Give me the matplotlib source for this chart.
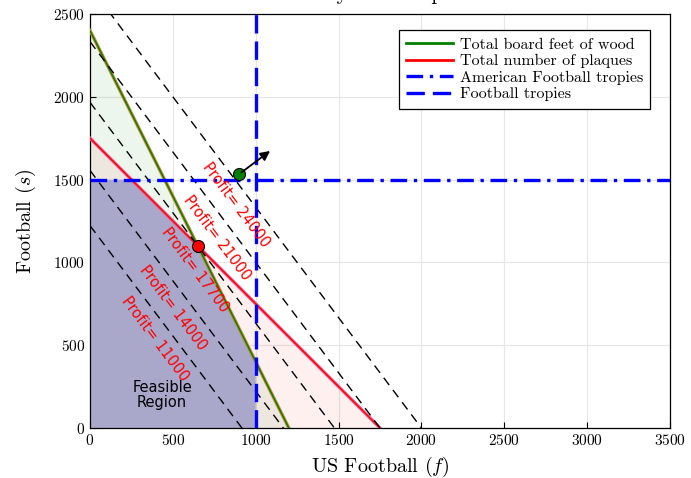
import matplotlib
matplotlib.use("Agg")
import matplotlib.pyplot as plt
import numpy as np

plt.rcParams['font.family'] = 'cmr10'
plt.rcParams['mathtext.fontset'] = 'cm'
plt.rcParams['axes.formatter.use_mathtext'] = True

# LP data: profit = 12 f + 9 s
wood_intercepts = [1200, 2400]      # 4f + 2s <= 4800
plaque_intercepts = [1750, 1750]    # f + s <= 1750
us_limit = 1000                     # f <= 1000
am_limit = 1500                     # s <= 1500
profit_coef = [12, 9]
profit_levels = [11000, 14000, 17700, 21000, 24000]
# label centres (f, s) for each profit line
label_f = [390, 500, 635, 765, 880]
label_s = [540, 725, 955, 1150, 1345]
feasible_f = [0, 0, 250, 650, 1000, 1000]
feasible_s = [0, 1500, 1500, 1100, 400, 0]
optimum = [650, 1100]
grad_start = [900, 1533]
grad_end = [1100, 1683]

fig = plt.figure(figsize=(6.91, 4.78), dpi=100)
ax = fig.add_axes([90/691, 50/478, 580/691, 414/478])

f = np.linspace(0, 3500, 400)

# shaded constraint regions
wood_s = wood_intercepts[1] * (1 - f / wood_intercepts[0])
plaque_s = plaque_intercepts[1] * (1 - f / plaque_intercepts[0])
ax.fill_between(f, 0, np.clip(wood_s, 0, None), color='green', alpha=0.07, lw=0)
ax.fill_between(f, 0, np.clip(plaque_s, 0, None), color='red', alpha=0.06, lw=0)
ax.fill(feasible_f, feasible_s, color='#a9a7ca', lw=0, zorder=2)

# constraint lines
fw = np.array([0, wood_intercepts[0]])
ax.plot(fw, wood_intercepts[1] * (1 - fw / wood_intercepts[0]), color='#c8873a', lw=2.4, zorder=3)
ax.plot(fw, wood_intercepts[1] * (1 - fw / wood_intercepts[0]), color='green', lw=1.0, zorder=4,
        label='Total board feet of wood')
fp = np.array([0, plaque_intercepts[0]])
ax.plot(fp, plaque_intercepts[1] * (1 - fp / plaque_intercepts[0]), color='#e8609a', lw=2.4, zorder=3)
ax.plot(fp, plaque_intercepts[1] * (1 - fp / plaque_intercepts[0]), color='red', lw=1.0, zorder=4,
        label='Total number of plaques')
ax.axhline(am_limit, color='blue', lw=2.4, ls=(0, (5, 2, 1, 2)), zorder=5,
           label='American Football tropies')
ax.axvline(us_limit, color='blue', lw=2.4, ls=(0, (5.5, 2.4)), zorder=5,
           label='Football tropies')

# iso-profit lines
fl = np.array([0, 3500])
for P, lf, ls_ in zip(profit_levels, label_f, label_s):
    ax.plot(fl, (P - profit_coef[0] * fl) / profit_coef[1], color='black', lw=1,
            ls=(0, (6.5, 4.5)), zorder=4)
    ax.text(lf, ls_, f'Profit= {P}', color='red', fontsize=10.5, family='DejaVu Sans',
            rotation=-53.13, rotation_mode='anchor', ha='center', va='center', zorder=6)

ax.text(435, 200, 'Feasible\nRegion', fontsize=10.5, family='DejaVu Sans', ha='center',
        va='center', linespacing=1.0, zorder=6)

ax.scatter(*optimum, s=75, color='red', edgecolor='black', lw=0.8, zorder=7)
ax.scatter(*grad_start, s=75, color='green', edgecolor='black', lw=0.8, zorder=7)
ax.annotate('', xy=grad_end, xytext=grad_start,
            arrowprops=dict(arrowstyle='-|>', color='black', lw=1.3, mutation_scale=14), zorder=7)

ax.set_xlim(0, 3500)
ax.set_ylim(0, 2500)
ax.set_xticks(np.arange(0, 3501, 500))
ax.set_yticks(np.arange(0, 2501, 500))
ax.grid(True, color='#e6e6e6', lw=0.8)
ax.set_axisbelow(True)
ax.tick_params(direction='in', labelsize=11, length=4, width=0.8)
for sp in ax.spines.values():
    sp.set_linewidth(0.9)
ax.set_xlabel('US Football ($f$)', fontsize=14.5, labelpad=5)
ax.set_ylabel('Football ($s$)', fontsize=14.5, labelpad=11)

leg = ax.legend(loc='upper right', bbox_to_anchor=(0.966, 0.961), borderaxespad=0,
                fontsize=11.5, fancybox=False, framealpha=1, edgecolor='black',
                handlelength=2.9, labelspacing=0.15, borderpad=0.45, handletextpad=0.45)
leg.get_frame().set_linewidth(0.9)
for ln in leg.get_lines()[:2]:
    ln.set_linewidth(2.0)

fig.text(380/691, 1.0, 'Study of Examples', fontsize=15, ha='center', va='baseline')

fig.savefig('out.png', dpi=100)
